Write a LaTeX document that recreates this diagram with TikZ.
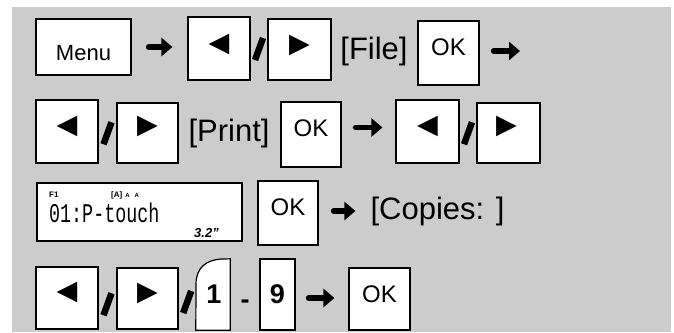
\documentclass[tikz,border=0pt]{standalone}
\usepackage{fontspec}
\usepackage{graphicx}
\setmainfont{Liberation Sans}
\newfontfamily\symfont{DejaVu Sans}
\newfontfamily\lcdfont{Liberation Mono}
\usetikzlibrary{arrows.meta,calc}
\definecolor{panelgray}{HTML}{CCCCCC}
\tikzset{
    key/.style={draw, fill=white, line width=1.2pt, inner sep=0pt},
    keytri/.style={font=\symfont\fontsize{27}{27}\selectfont, inner sep=0pt},
    oktext/.style={font=\fontsize{24}{24}\selectfont, inner sep=0pt},
    bracket/.style={font=\fontsize{31}{31}\selectfont, inner sep=0pt},
    digit/.style={font=\bfseries\fontsize{27}{27}\selectfont, inner sep=0pt},
    flow/.style={line width=5.5pt, -{Triangle[length=11pt,width=18pt]}, line cap=round},
    sep/.style={line width=6.5pt},
}
\begin{document}
\begin{tikzpicture}[x=1pt,y=-1pt]
    \useasboundingbox (0,0) rectangle (674,332);
    \fill[panelgray] (12,7) rectangle (671,332);
    % row 1
    \node[key, minimum width=95pt, minimum height=56pt] (menu) at (83.5,47) {};
    \node[font=\fontsize{22}{22}\selectfont, inner sep=0pt] (menut) at ([yshift=-6pt]menu.center) {Menu};
    \node[key, minimum width=62pt, minimum height=63pt] (lk1) at (219,48.5) {};
    \node[keytri] (lk1t) at ([yshift=4.5pt]lk1.center) {◀};
    \node[key, minimum width=63pt, minimum height=61pt] (rk1) at (299.5,49.5) {};
    \node[keytri] (rk1t) at ([yshift=4.5pt]rk1.center) {▶};
    \node[bracket] (file) at (374,51) {[File]};
    \node[key, minimum width=61pt, minimum height=64pt] (ok1) at (448.5,53) {};
    \node[oktext] (ok1t) at ([yshift=6pt]ok1.center) {OK};
    \coordinate (end1) at (520,51);
    \draw[flow, shorten <=17pt, shorten >=15pt] (menu.east) -- (menu.east -| lk1.west);
    \draw[sep] ($(lk1.east)!.5!(rk1.west)+(-4,11)$) -- ++(8,-22);
    \draw[flow, shorten <=14pt] (ok1.east |- end1) -- (end1);
    % row 2
    \node[key, minimum width=62pt, minimum height=63pt] (lk2) at (67,131.5) {};
    \node[keytri] (lk2t) at ([yshift=5.5pt]lk2.center) {◀};
    \node[key, minimum width=61pt, minimum height=60pt] (rk2) at (147.5,133) {};
    \node[keytri] (rk2t) at ([yshift=6.5pt]rk2.center) {▶};
    \node[bracket] (print) at (229,133) {[Print]};
    \node[key, minimum width=60pt, minimum height=65pt] (ok2) at (311,134.5) {};
    \node[oktext] (ok2t) at ([yshift=6.5pt]ok2.center) {OK};
    \node[key, minimum width=63pt, minimum height=63pt] (lk3) at (427.5,131.5) {};
    \node[keytri] (lk3t) at ([yshift=5pt]lk3.center) {◀};
    \node[key, minimum width=63pt, minimum height=60pt] (rk3) at (508.5,133) {};
    \node[keytri] (rk3t) at ([xshift=-2pt,yshift=6.5pt]rk3.center) {▶};
    \draw[sep] ($(lk2.east)!.5!(rk2.west)+(-4,12)$) -- ++(8,-22);
    \draw[flow, shorten <=14pt, shorten >=13pt] ([yshift=7pt]ok2.east) -- ([yshift=7pt]ok2.east -| lk3.west);
    \draw[sep] ($(lk3.east)!.5!(rk3.west)+(-4,12)$) -- ++(8,-22);
    % row 3
    \node[draw, fill=white, line width=1.5pt, minimum width=205pt, minimum height=58pt] (lcd) at (139.5,212) {};
    \node[font=\bfseries\fontsize{8}{8}\selectfont, anchor=base west, inner sep=0pt] (f1) at (49,197) {F1};
    \node[font=\bfseries\fontsize{8}{8}\selectfont, anchor=base west, inner sep=0pt] (caps) at (111,197) {[A]\hspace{3pt}{\fontsize{6}{6}\selectfont A\hspace{5pt}A}};
    \node[font=\lcdfont\fontsize{27}{27}\selectfont, anchor=base west, inner sep=0pt] (lcdline) at (49,222) {\scalebox{0.68}[1]{01:P-touch}};
    \node[font=\bfseries\itshape\fontsize{13}{13}\selectfont, anchor=base east, inner sep=0pt] (size) at (219,237) {3.2"};
    \node[key, minimum width=60pt, minimum height=64pt] (ok3) at (288,213) {};
    \node[oktext] (ok3t) at ([yshift=6pt]ok3.center) {OK};
    \node[bracket] (copies) at (437.5,211) {[Copies: ]};
    \draw[flow, shorten <=15pt, shorten >=15pt] ([yshift=2pt]ok3.east) -- ([yshift=2pt]ok3.east -| copies.west);
    % row 4
    \node[key, minimum width=62pt, minimum height=62pt] (lk4) at (67,298) {};
    \node[keytri] (lk4t) at ([yshift=6pt]lk4.center) {◀};
    \node[key, minimum width=61pt, minimum height=61pt] (rk4) at (147.5,298.5) {};
    \node[keytri] (rk4t) at ([yshift=5.5pt]rk4.center) {▶};
    \node[inner sep=0pt, minimum width=34pt, minimum height=71pt] (onekey) at (213,294.5) {};
    \draw[key] (onekey.south west) -- (196,284) .. controls (196,268) and (206,259) .. (224,259)
        -- (onekey.north east) -- (onekey.south east) -- cycle;
    \node[digit] (onet) at ([xshift=1pt]onekey.center) {1};
    \node[font=\bfseries\fontsize{27}{27}\selectfont, anchor=base, inner sep=0pt] (dash) at (245,308) {-};
    \node[key, minimum width=35pt, minimum height=71pt] (nine) at (277.5,294.5) {};
    \node[digit] (ninet) at (nine.center) {9};
    \node[key, minimum width=61pt, minimum height=62pt] (ok4) at (379.5,299) {};
    \node[oktext] (ok4t) at ([yshift=5pt]ok4.center) {OK};
    \draw[sep] ($(lk4.east)!.5!(rk4.west)+(-4,17)$) -- ++(8,-22);
    \draw[sep] ($(rk4.east)!.5!(onekey.west)+(-4,16.5)$) -- ++(8,-22);
    \draw[flow, shorten <=13pt, shorten >=14pt] ([yshift=-3.5pt]nine.east) -- ([yshift=-3.5pt]nine.east -| ok4.west);
\end{tikzpicture}
\end{document}
